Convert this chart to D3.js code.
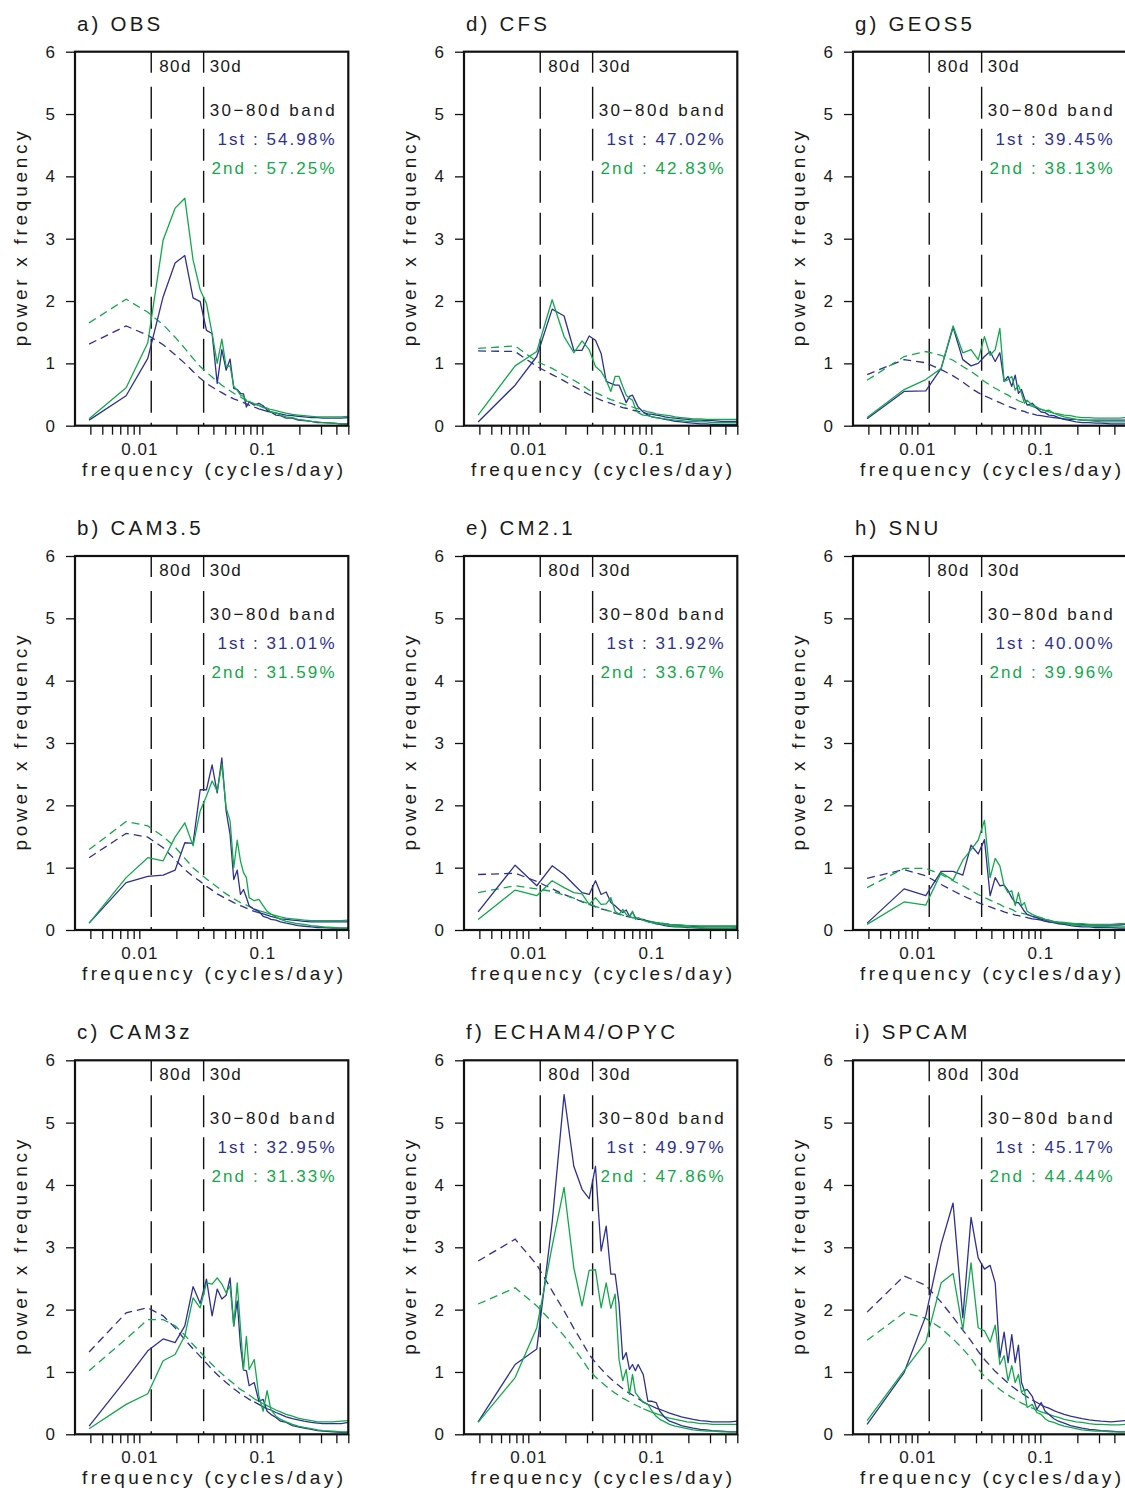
<!DOCTYPE html>
<html>
<head>
<meta charset="utf-8">
<script src="https://cdn.jsdelivr.net/npm/d3@7"></script>
<style>
  body { margin: 0; background: #fff; }
  svg text { font-family: "Liberation Sans", Arial, sans-serif; fill: #1a1a1a; }
</style>
</head>
<body>
<div id="chart"></div>
<script>
// spectral estimates sit at k / 256 cycles/day; tail is read at fewer points
const freqIndex = [1,2,3,4,5,6,7,8,9,10,11,12,13,14,15,16,17,18,19,20,22,24,26,28,30,33,36,40,45,50,56,64,72,80,96,112,128];
const segmentDays = 256;
const periodMarks = [80, 30];
const yTicks = [0, 1, 2, 3, 4, 5, 6];
const xTicks = [0.004,0.005,0.006,0.007,0.008,0.009,0.01,0.02,0.03,0.04,0.05,0.06,0.07,0.08,0.09,0.1,0.2,0.3,0.4,0.5];
const xTickLabels = [0.01, 0.1];

const panelLabels = ["a) OBS", "b) CAM3.5", "c) CAM3z", "d) CFS", "e) CM2.1", "f) ECHAM4/OPYC", "g) GEOS5", "h) SNU", "i) SPCAM"];
const bandFirst = ["54.98%", "31.01%", "32.95%", "47.02%", "31.92%", "49.97%", "39.45%", "40.00%", "45.17%"];
const bandSecond = ["57.25%", "31.59%", "31.33%", "42.83%", "33.67%", "47.86%", "38.13%", "39.96%", "44.44%"];

// a) OBS
const obsPc1 = [0.09,0.48,1.08,2.07,2.61,2.73,2.05,1.99,1.53,1.48,0.68,1.22,0.89,1.07,0.6,0.58,0.52,0.51,0.3,0.38,0.33,0.36,0.32,0.25,0.22,0.17,0.16,0.12,0.12,0.09,0.08,0.07,0.05,0.05,0.04,0.03,0.03];
const obsPc2 = [0.11,0.61,1.33,2.98,3.49,3.65,2.66,2.18,1.96,1.48,1.0,1.39,0.95,0.96,0.63,0.57,0.49,0.47,0.39,0.39,0.35,0.33,0.29,0.28,0.22,0.21,0.17,0.14,0.13,0.1,0.09,0.07,0.06,0.05,0.04,0.03,0.02];
const obsRed1 = [1.31,1.6,1.45,1.3,1.14,1.0,0.87,0.76,0.68,0.62,0.57,0.53,0.49,0.46,0.43,0.41,0.39,0.37,0.35,0.33,0.3,0.27,0.25,0.23,0.22,0.2,0.19,0.17,0.16,0.15,0.14,0.13,0.13,0.12,0.12,0.12,0.13];
const obsRed2 = [1.65,2.03,1.82,1.62,1.42,1.24,1.08,0.95,0.86,0.78,0.71,0.65,0.6,0.56,0.52,0.49,0.46,0.43,0.41,0.39,0.35,0.32,0.3,0.28,0.26,0.24,0.22,0.2,0.18,0.17,0.16,0.15,0.14,0.14,0.14,0.14,0.15];

// b) CAM3.5
const cam35Pc1 = [0.11,0.76,0.86,0.88,0.96,1.4,1.39,2.25,2.25,2.65,2.2,2.76,1.91,1.53,0.81,0.96,0.57,0.65,0.52,0.39,0.33,0.3,0.22,0.2,0.17,0.16,0.13,0.11,0.09,0.07,0.06,0.05,0.04,0.04,0.03,0.03,0.03];
const cam35Pc2 = [0.11,0.84,1.16,1.11,1.49,1.72,1.35,1.91,2.15,2.39,2.23,2.66,1.96,1.75,1.0,1.44,1.11,0.92,0.84,0.52,0.47,0.49,0.39,0.3,0.26,0.21,0.17,0.14,0.12,0.1,0.09,0.07,0.06,0.05,0.04,0.03,0.03];
const cam35Red1 = [1.16,1.55,1.49,1.32,1.13,0.97,0.86,0.78,0.7,0.64,0.58,0.54,0.5,0.47,0.44,0.41,0.39,0.37,0.35,0.33,0.3,0.28,0.26,0.24,0.22,0.2,0.18,0.17,0.16,0.15,0.14,0.13,0.13,0.13,0.13,0.13,0.13];
const cam35Red2 = [1.29,1.74,1.67,1.5,1.33,1.15,1.0,0.9,0.82,0.75,0.69,0.63,0.58,0.54,0.5,0.47,0.44,0.42,0.4,0.38,0.34,0.31,0.29,0.27,0.25,0.23,0.21,0.19,0.18,0.17,0.16,0.15,0.15,0.15,0.15,0.15,0.16];

// c) CAM3z
const cam3zPc1 = [0.13,0.88,1.34,1.53,1.47,1.74,2.37,2.1,2.49,1.9,2.33,2.17,2.23,2.51,1.74,2.14,1.42,1.03,1.02,0.78,0.83,0.53,0.56,0.37,0.32,0.27,0.21,0.19,0.14,0.12,0.1,0.08,0.06,0.05,0.04,0.03,0.03];
const cam3zPc2 = [0.09,0.48,0.65,1.18,1.28,1.58,2.19,2.03,2.43,2.41,2.51,2.41,2.27,2.38,1.74,2.43,1.71,1.04,1.57,1.04,1.2,0.61,0.37,0.7,0.4,0.29,0.24,0.2,0.16,0.13,0.11,0.09,0.07,0.06,0.05,0.04,0.04];
const cam3zRed1 = [1.32,1.95,2.03,1.9,1.71,1.52,1.37,1.25,1.14,1.04,0.96,0.89,0.83,0.78,0.73,0.69,0.65,0.62,0.59,0.56,0.52,0.48,0.44,0.41,0.39,0.35,0.32,0.28,0.25,0.23,0.21,0.19,0.18,0.17,0.17,0.17,0.19];
const cam3zRed2 = [1.02,1.53,1.84,1.84,1.74,1.59,1.44,1.32,1.21,1.12,1.04,0.97,0.91,0.86,0.81,0.76,0.72,0.69,0.66,0.63,0.57,0.53,0.49,0.46,0.43,0.39,0.36,0.32,0.29,0.26,0.24,0.22,0.2,0.2,0.2,0.21,0.22];

// d) CFS
const cfsPc1 = [0.06,0.65,1.11,1.87,1.76,1.21,1.21,1.44,1.37,1.16,0.71,0.68,0.65,0.65,0.51,0.37,0.47,0.49,0.39,0.3,0.22,0.17,0.14,0.13,0.12,0.1,0.09,0.07,0.06,0.05,0.04,0.03,0.03,0.02,0.02,0.02,0.02];
const cfsPc2 = [0.17,0.96,1.19,2.02,1.43,1.17,1.36,1.22,0.95,0.87,0.73,0.55,0.79,0.79,0.63,0.49,0.44,0.41,0.28,0.21,0.17,0.16,0.14,0.13,0.12,0.11,0.1,0.09,0.08,0.07,0.07,0.06,0.06,0.05,0.05,0.05,0.05];
const cfsRed1 = [1.2,1.19,0.95,0.82,0.72,0.63,0.56,0.5,0.45,0.41,0.38,0.36,0.33,0.31,0.29,0.28,0.27,0.25,0.24,0.23,0.21,0.19,0.18,0.17,0.16,0.14,0.13,0.12,0.11,0.1,0.09,0.09,0.08,0.08,0.07,0.07,0.07];
const cfsRed2 = [1.24,1.28,1.03,0.92,0.81,0.73,0.65,0.57,0.53,0.49,0.45,0.42,0.4,0.37,0.35,0.33,0.32,0.3,0.28,0.27,0.25,0.22,0.21,0.19,0.18,0.17,0.16,0.14,0.13,0.12,0.11,0.11,0.1,0.1,0.1,0.1,0.1];

// e) CM2.1
const cm21Pc1 = [0.29,1.04,0.71,1.03,0.89,0.73,0.6,0.57,0.79,0.57,0.61,0.44,0.39,0.33,0.28,0.32,0.22,0.29,0.2,0.17,0.17,0.14,0.12,0.1,0.09,0.07,0.06,0.05,0.05,0.04,0.04,0.03,0.03,0.03,0.03,0.03,0.03];
const cm21Pc2 = [0.17,0.64,0.55,0.79,0.68,0.6,0.58,0.41,0.52,0.41,0.42,0.52,0.3,0.25,0.33,0.25,0.21,0.3,0.17,0.2,0.16,0.13,0.12,0.11,0.1,0.09,0.07,0.06,0.05,0.05,0.04,0.04,0.03,0.03,0.03,0.03,0.04];
const cm21Red1 = [0.89,0.91,0.78,0.66,0.57,0.51,0.45,0.41,0.37,0.34,0.32,0.29,0.27,0.25,0.24,0.22,0.21,0.2,0.19,0.18,0.16,0.14,0.13,0.12,0.11,0.1,0.09,0.08,0.07,0.07,0.06,0.06,0.06,0.06,0.06,0.06,0.06];
const cm21Red2 = [0.6,0.71,0.66,0.62,0.56,0.51,0.46,0.42,0.38,0.35,0.32,0.3,0.28,0.26,0.24,0.23,0.21,0.2,0.19,0.18,0.16,0.15,0.13,0.12,0.11,0.1,0.09,0.08,0.08,0.07,0.07,0.06,0.06,0.06,0.06,0.06,0.06];

// f) ECHAM4/OPYC
const echamPc1 = [0.2,1.12,1.37,3.4,5.45,4.3,3.93,3.78,4.3,2.94,3.34,2.57,2.57,2.09,1.2,1.31,1.04,1.12,1.02,1.12,0.96,0.53,0.53,0.51,0.37,0.27,0.21,0.18,0.14,0.12,0.1,0.08,0.07,0.06,0.05,0.04,0.04];
const echamPc2 = [0.19,0.91,1.71,3.02,3.96,2.67,2.06,2.63,2.64,2.03,2.43,2.02,2.25,1.2,0.86,1.04,0.64,0.96,0.67,0.61,0.51,0.48,0.37,0.29,0.24,0.2,0.16,0.13,0.11,0.09,0.07,0.06,0.05,0.05,0.04,0.04,0.04];
const echamRed1 = [2.78,3.13,2.72,2.3,1.98,1.7,1.48,1.28,1.15,1.05,0.96,0.89,0.83,0.78,0.73,0.69,0.66,0.63,0.6,0.57,0.52,0.48,0.45,0.42,0.4,0.37,0.34,0.31,0.28,0.26,0.24,0.22,0.21,0.2,0.2,0.2,0.21];
const echamRed2 = [2.09,2.35,2.06,1.8,1.58,1.38,1.2,1.03,0.92,0.84,0.77,0.71,0.66,0.62,0.58,0.55,0.52,0.49,0.47,0.45,0.41,0.38,0.35,0.33,0.31,0.28,0.26,0.24,0.22,0.2,0.19,0.17,0.17,0.16,0.16,0.16,0.16];

// g) GEOS5
const geosPc1 = [0.11,0.55,0.56,0.92,1.58,1.06,0.96,1.0,1.11,1.19,1.03,1.17,0.71,0.79,0.63,0.81,0.52,0.58,0.44,0.33,0.36,0.28,0.22,0.21,0.17,0.16,0.13,0.1,0.08,0.06,0.05,0.05,0.04,0.04,0.03,0.03,0.03];
const geosPc2 = [0.13,0.58,0.74,0.92,1.6,1.17,1.22,1.06,1.43,1.13,1.22,1.56,0.71,0.74,0.79,0.57,0.65,0.52,0.36,0.41,0.33,0.3,0.26,0.24,0.25,0.2,0.17,0.14,0.12,0.1,0.09,0.08,0.07,0.06,0.06,0.06,0.06];
const geosRed1 = [0.82,1.06,1.01,0.9,0.8,0.7,0.6,0.53,0.48,0.44,0.4,0.37,0.34,0.31,0.29,0.27,0.25,0.24,0.23,0.21,0.19,0.17,0.16,0.15,0.14,0.13,0.12,0.11,0.1,0.1,0.09,0.09,0.09,0.09,0.09,0.09,0.09];
const geosRed2 = [0.73,1.11,1.19,1.13,1.05,0.95,0.87,0.79,0.71,0.65,0.6,0.56,0.52,0.49,0.45,0.43,0.4,0.38,0.36,0.34,0.31,0.28,0.26,0.24,0.22,0.2,0.19,0.17,0.16,0.14,0.13,0.13,0.12,0.12,0.12,0.12,0.13];

// h) SNU
const snuPc1 = [0.11,0.66,0.55,0.94,0.94,0.88,1.36,1.22,1.45,0.55,0.84,0.71,0.72,0.63,0.52,0.44,0.44,0.37,0.3,0.25,0.22,0.2,0.17,0.16,0.13,0.12,0.1,0.09,0.07,0.06,0.05,0.05,0.04,0.04,0.04,0.03,0.03];
const snuPc2 = [0.09,0.45,0.4,0.92,0.8,1.12,1.29,1.44,1.76,0.84,1.15,1.03,0.71,0.6,0.63,0.39,0.6,0.39,0.44,0.3,0.25,0.22,0.2,0.17,0.16,0.13,0.12,0.11,0.09,0.08,0.07,0.07,0.06,0.06,0.05,0.05,0.05];
const snuRed1 = [0.83,0.97,0.87,0.73,0.63,0.55,0.49,0.44,0.4,0.37,0.34,0.32,0.29,0.27,0.26,0.24,0.23,0.22,0.21,0.2,0.18,0.17,0.16,0.14,0.13,0.12,0.11,0.1,0.1,0.09,0.09,0.08,0.08,0.08,0.08,0.08,0.09];
const snuRed2 = [0.68,0.99,0.99,0.89,0.79,0.71,0.63,0.57,0.52,0.48,0.44,0.41,0.37,0.35,0.33,0.3,0.29,0.27,0.26,0.25,0.22,0.2,0.19,0.17,0.16,0.14,0.13,0.12,0.11,0.1,0.1,0.09,0.09,0.09,0.09,0.1,0.1];

// i) SPCAM
const spcamPc1 = [0.16,0.99,1.9,3.05,3.71,1.87,3.48,2.83,2.65,2.71,2.43,1.23,1.64,1.15,1.6,1.15,1.43,0.83,0.7,0.72,0.61,0.4,0.51,0.37,0.32,0.25,0.21,0.18,0.14,0.12,0.1,0.08,0.07,0.06,0.05,0.04,0.04];
const spcamPc2 = [0.22,1.02,1.48,2.43,2.58,1.68,2.75,1.71,1.66,1.48,1.75,1.12,1.26,0.86,1.1,0.83,0.96,0.67,0.72,0.43,0.48,0.35,0.32,0.25,0.21,0.19,0.16,0.13,0.11,0.09,0.07,0.06,0.05,0.05,0.04,0.04,0.04];
const spcamRed1 = [1.96,2.54,2.39,2.12,1.88,1.67,1.5,1.33,1.2,1.1,1.01,0.94,0.88,0.82,0.77,0.73,0.69,0.66,0.63,0.6,0.55,0.51,0.47,0.44,0.42,0.38,0.35,0.32,0.29,0.27,0.25,0.23,0.22,0.21,0.2,0.21,0.22];
const spcamRed2 = [1.51,1.95,1.86,1.7,1.53,1.37,1.22,1.05,0.93,0.85,0.78,0.72,0.67,0.63,0.59,0.56,0.53,0.5,0.48,0.46,0.42,0.39,0.36,0.34,0.32,0.29,0.27,0.24,0.22,0.2,0.19,0.17,0.16,0.16,0.15,0.15,0.16];

const firstSeries = [obsPc1, cam35Pc1, cam3zPc1, cfsPc1, cm21Pc1, echamPc1, geosPc1, snuPc1, spcamPc1];
const secondSeries = [obsPc2, cam35Pc2, cam3zPc2, cfsPc2, cm21Pc2, echamPc2, geosPc2, snuPc2, spcamPc2];
const firstRed = [obsRed1, cam35Red1, cam3zRed1, cfsRed1, cm21Red1, echamRed1, geosRed1, snuRed1, spcamRed1];
const secondRed = [obsRed2, cam35Red2, cam3zRed2, cfsRed2, cm21Red2, echamRed2, geosRed2, snuRed2, spcamRed2];

const blue = "#2e3192";
const green = "#13a84b";

const colLeft = [75, 464, 853];
const rowTop = [51.7, 556, 1060.3];
const plotW = 273.3;
const plotH = 374;
const dashUntil = 22; // dense points past here render solid, as in the original

const svg = d3.select("#chart").append("svg")
    .attr("width", 1125)
    .attr("height", 1492);

const x = d3.scaleLog().domain([0.003, 0.5]).range([0, plotW]);
const y = d3.scaleLinear().domain([0, 6]).range([plotH, 0]);

const line = d3.line()
    .x(d => x(d.f))
    .y(d => y(d.v));

function toPoints(values) {
    return values.map((v, i) => ({ k: freqIndex[i], f: freqIndex[i] / segmentDays, v: v }));
}

panelLabels.forEach(function(label, i) {
    const left = colLeft[Math.floor(i / 3)];
    const top = rowTop[i % 3];
    const g = svg.append("g").attr("transform", `translate(${left},${top})`);

    // title
    g.append("text")
        .attr("x", 2)
        .attr("y", -21)
        .style("font-size", "20.5px")
        .style("letter-spacing", "3.2px")
        .text(label);

    // 80d / 30d markers
    periodMarks.forEach(function(p) {
        const px = x(1 / p);
        g.append("line")
            .attr("x1", px).attr("x2", px)
            .attr("y1", 0).attr("y2", 21)
            .attr("stroke", "#111").attr("stroke-width", 1.4);
        g.append("line")
            .attr("x1", px).attr("x2", px)
            .attr("y1", 35).attr("y2", plotH)
            .attr("stroke", "#111").attr("stroke-width", 1.4)
            .attr("stroke-dasharray", "32,10");
        g.append("text")
            .attr("x", px + (p === 80 ? 8 : 6))
            .attr("y", 20)
            .style("font-size", "17px")
            .style("letter-spacing", "1.4px")
            .text(p + "d");
    });

    // red-noise curves (dashed), then the two spectra
    [[firstRed[i], blue], [secondRed[i], green]].forEach(function(s) {
        const pts = toPoints(s[0]);
        g.append("path")
            .datum(pts.filter(d => d.k <= dashUntil))
            .attr("fill", "none")
            .attr("stroke", s[1])
            .attr("stroke-width", 1.3)
            .attr("stroke-dasharray", "8,5")
            .attr("d", line);
        g.append("path")
            .datum(pts.filter(d => d.k >= dashUntil))
            .attr("fill", "none")
            .attr("stroke", s[1])
            .attr("stroke-width", 1.3)
            .attr("d", line);
    });

    [[firstSeries[i], blue], [secondSeries[i], green]].forEach(function(s) {
        g.append("path")
            .datum(toPoints(s[0]))
            .attr("fill", "none")
            .attr("stroke", s[1])
            .attr("stroke-width", 1.3)
            .attr("stroke-linejoin", "round")
            .attr("d", line);
    });

    // band variance text
    const tx = x(1 / 30) + 6;
    g.append("text")
        .attr("x", tx)
        .attr("y", 64)
        .attr("textLength", 125)
        .attr("lengthAdjust", "spacing")
        .style("font-size", "17px")
        .text("30\u221280d band");
    g.append("text")
        .attr("x", 259.5)
        .attr("y", 93)
        .attr("text-anchor", "end")
        .attr("textLength", 117)
        .attr("lengthAdjust", "spacing")
        .style("font-size", "17px")
        .style("fill", blue)
        .text("1st : " + bandFirst[i]);
    g.append("text")
        .attr("x", 259.5)
        .attr("y", 122)
        .attr("text-anchor", "end")
        .attr("textLength", 123)
        .attr("lengthAdjust", "spacing")
        .style("font-size", "17px")
        .style("fill", green)
        .text("2nd : " + bandSecond[i]);

    // axes
    const yAxis = g.append("g")
        .call(d3.axisLeft(y).tickValues(yTicks).tickSize(9).tickPadding(10).tickFormat(d3.format("d")));
    const xAxis = g.append("g")
        .attr("transform", `translate(0,${plotH})`)
        .call(d3.axisBottom(x).tickValues(xTicks).tickSize(9).tickPadding(8)
            .tickFormat(d => xTickLabels.includes(d) ? String(d) : ""));
    [yAxis, xAxis].forEach(function(a) {
        a.select(".domain").remove();
        a.selectAll(".tick line").attr("stroke", "#111").attr("stroke-width", 1.3);
        a.selectAll(".tick text")
            .style("font-size", "17px")
            .style("letter-spacing", "1px")
            .attr("fill", "#1a1a1a");
    });

    g.append("text")
        .attr("x", 137.5)
        .attr("y", plotH + 50)
        .attr("text-anchor", "middle")
        .attr("textLength", 261)
        .attr("lengthAdjust", "spacing")
        .style("font-size", "19px")
        .text("frequency (cycles/day)");

    g.append("text")
        .attr("transform", `translate(-48,${plotH / 2}) rotate(-90)`)
        .attr("text-anchor", "middle")
        .attr("textLength", 215)
        .attr("lengthAdjust", "spacing")
        .style("font-size", "19px")
        .text("power x frequency");

    // frame
    g.append("rect")
        .attr("width", plotW)
        .attr("height", plotH)
        .attr("fill", "none")
        .attr("stroke", "#111")
        .attr("stroke-width", 2.2);
});
</script>
</body>
</html>
